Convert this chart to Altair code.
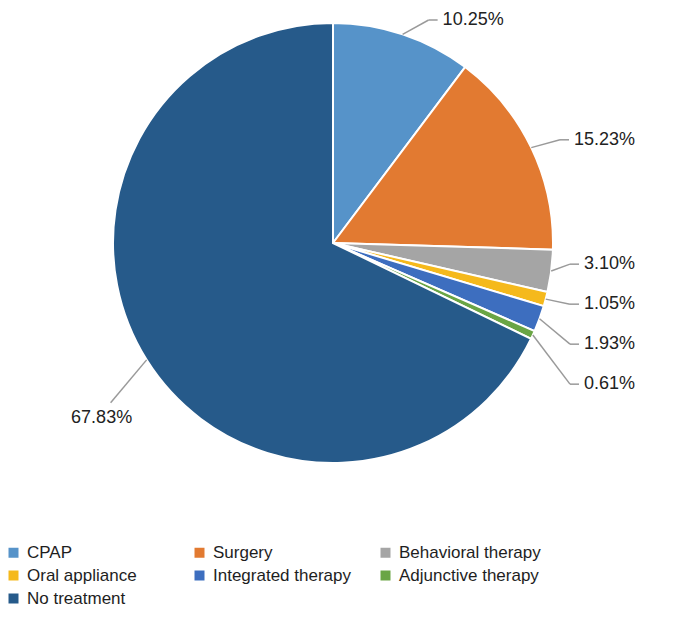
import math
import altair as alt
import pandas as pd

categories = ["CPAP", "Surgery", "Behavioral therapy", "Oral appliance",
              "Integrated therapy", "Adjunctive therapy", "No treatment"]
values = [10.25, 15.23, 3.10, 1.05, 1.93, 0.61, 67.83]
labels = ["10.25%", "15.23%", "3.10%", "1.05%", "1.93%", "0.61%", "67.83%"]
colors = ["#5693C9", "#E27A31", "#A5A5A5", "#F5B91C", "#3D6EBF", "#6AA545", "#265A8A"]

# layout (page pixels)
W, H = 661, 602
OFF = 8
CX, CY, R = 333, 243, 220
LR = 245      # label radius
GAP = 40      # minimal vertical gap between stacked labels
HSEG = 9      # horizontal leader segment
TOPMIN = OFF + 12

total = sum(values)
pie_rows, info = [], []
cum = 0.0
for i, (c, v, lab) in enumerate(zip(categories, values, labels)):
    mid = (cum + v / 2) / total * 2 * math.pi
    cum += v
    sx, sy = math.sin(mid), -math.cos(mid)
    pie_rows.append({"category": c, "value": v, "idx": i, "cx": CX, "cy": CY})
    info.append({"label": lab, "mid": mid, "sx": sx, "sy": sy,
                 "ex": CX + R * sx, "ey": CY + R * sy,
                 "bx": CX + LR * sx, "by": CY + LR * sy})

segs, texts = [], []
prev_y = -1e9
for d in sorted(info, key=lambda d: d["mid"]):
    if d["sx"] > 0:
        if abs(d["sy"]) > d["sx"] and d["sy"] < 0:
            # steep slice near the top: slanted leg
            ey_ = max(d["by"], TOPMIN)
            ex_ = d["ex"] + 26
        elif d["mid"] < math.pi / 2:
            ex_ = max(d["bx"], CX + 227)
            ey_ = d["by"] + 3
        else:
            ex_ = CX + 237
            ey_ = max(d["by"] - 10, prev_y + GAP)
        prev_y = ey_
        segs.append({"x": d["ex"], "y": d["ey"], "x2": ex_, "y2": ey_})
        segs.append({"x": ex_, "y": ey_, "x2": ex_ + HSEG, "y2": ey_})
        texts.append({"x": ex_ + HSEG + 5, "y": ey_, "label": d["label"], "side": "right"})
    else:
        a = math.radians(50)
        lx, ly = d["ex"] - 56 * math.cos(a), d["ey"] + 56 * math.sin(a)
        segs.append({"x": d["ex"], "y": d["ey"], "x2": lx, "y2": ly})
        texts.append({"x": lx - 9, "y": ly + 6, "label": d["label"], "side": "left"})

pie_df = pd.DataFrame(pie_rows)
seg_df = pd.DataFrame(segs)
txt_df = pd.DataFrame(texts)

xs = alt.Scale(domain=[OFF, OFF + W], nice=False, zero=False)
ys = alt.Scale(domain=[OFF, OFF + H], nice=False, zero=False, reverse=True)

pie = alt.Chart(pie_df).mark_arc(radius=R, stroke="white", strokeWidth=2).encode(
    x=alt.X("cx:Q", scale=xs, axis=None),
    y=alt.Y("cy:Q", scale=ys, axis=None),
    theta=alt.Theta("value:Q", stack=True),
    order=alt.Order("idx:Q"),
    color=alt.Color(
        "category:N",
        scale=alt.Scale(domain=categories, range=colors),
        sort=categories,
        legend=alt.Legend(
            title=None, orient="none", legendX=-3, legendY=536, columns=3,
            direction="horizontal",
            symbolType="square", symbolSize=100, symbolStrokeWidth=0,
            labelFontSize=17, labelColor="#1e1e1e", labelOffset=5,
            gridAlign="all", columnPadding=22, rowPadding=5, padding=0,
        ),
    ),
)

rules = alt.Chart(seg_df).mark_rule(color="#9a9a9a", strokeWidth=1.5).encode(
    x=alt.X("x:Q", scale=xs, axis=None),
    y=alt.Y("y:Q", scale=ys, axis=None),
    x2="x2:Q", y2="y2:Q",
)

txt_r = alt.Chart(txt_df[txt_df.side == "right"]).mark_text(
    align="left", baseline="middle", fontSize=18, color="#222222"
).encode(
    x=alt.X("x:Q", scale=xs, axis=None),
    y=alt.Y("y:Q", scale=ys, axis=None),
    text="label:N",
)

txt_l = alt.Chart(txt_df[txt_df.side == "left"]).mark_text(
    align="center", baseline="top", fontSize=18, color="#222222"
).encode(
    x=alt.X("x:Q", scale=xs, axis=None),
    y=alt.Y("y:Q", scale=ys, axis=None),
    text="label:N",
)

chart = alt.layer(pie, rules, txt_r, txt_l).properties(
    width=W, height=H, autosize=alt.AutoSizeParams(type="none"), padding=0
).configure(font="Liberation Sans").configure_view(stroke=None)

chart.save("out.html", embed_options={"renderer": "svg", "actions": False})
